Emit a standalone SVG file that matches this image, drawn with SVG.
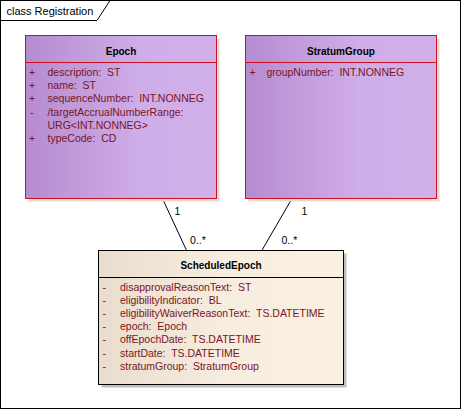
<svg xmlns="http://www.w3.org/2000/svg" width="462" height="410" viewBox="0 0 462 410">
<style>
text{font-family:"Liberation Sans",Arial,sans-serif;}
.title{font-size:11px;fill:#000;}
.hdr{font-size:10px;font-weight:bold;fill:#000;text-anchor:middle;}
.attr{font-size:10.5px;fill:#7b1424;}
.mult{font-size:10.5px;fill:#000;}
.pbox{fill:url(#purple);stroke:#cc1020;stroke-width:1;}
.pline{stroke:#cc1020;stroke-width:1;}
.pshadow{fill:#e6dad6;}
.bbox{fill:url(#beige);stroke:#000;stroke-width:1;}
.conn{stroke:#000;stroke-width:1;fill:none;}
</style>
<defs>
<linearGradient id="purple" x1="0" y1="0" x2="1" y2="0">
<stop offset="0" stop-color="#b58ccf"/>
<stop offset="0.6" stop-color="#cfade8"/>
<stop offset="1" stop-color="#d1afe9"/>
</linearGradient>
<linearGradient id="beige" x1="0" y1="0" x2="1" y2="0">
<stop offset="0" stop-color="#e9ddcd"/>
<stop offset="0.5" stop-color="#f6ecdf"/>
<stop offset="1" stop-color="#fbf1e3"/>
</linearGradient>
</defs>
<rect x="0" y="0" width="462" height="410" fill="#fff"/>
<g id="frame">
<rect x="0.5" y="0.5" width="460" height="408" fill="none" stroke="#000"/>
<path d="M0.5,20.5 H97 L110,0.5" fill="none" stroke="#000"/>
<text class="title" x="6.5" y="14.5">class Registration</text>
</g>
<g id="connectors">
<line class="conn" x1="162.7" y1="199" x2="186.7" y2="250.7"/>
<line class="conn" x1="291.7" y1="199" x2="261.7" y2="250.7"/>
<text class="mult" x="174.5" y="215">1</text>
<text class="mult" x="190" y="244">0..*</text>
<text class="mult" x="301.5" y="215">1</text>
<text class="mult" x="281.5" y="244">0..*</text>
</g>
<g id="Epoch">
<rect class="pshadow" x="28.5" y="38.5" width="191" height="163"/>
<rect class="pbox" x="25.5" y="35.5" width="191" height="163"/>
<line class="pline" x1="25.5" y1="62.5" x2="216.5" y2="62.5"/>
<text class="hdr" x="121" y="54.5">Epoch</text>
<text class="attr" x="29" y="76">+</text><text class="attr" x="47.5" y="76" xml:space="preserve">description:  ST</text>
<text class="attr" x="29" y="89.2">+</text><text class="attr" x="47.5" y="89.2" xml:space="preserve">name:  ST</text>
<text class="attr" x="29" y="102.4">+</text><text class="attr" x="47.5" y="102.4" xml:space="preserve">sequenceNumber:  INT.NONNEG</text>
<text class="attr" x="30" y="115.6">-</text><text class="attr" x="47.5" y="115.6" xml:space="preserve">/targetAccrualNumberRange:</text>
<text class="attr" x="47.5" y="128.8">URG&lt;INT.NONNEG&gt;</text>
<text class="attr" x="29" y="142">+</text><text class="attr" x="47.5" y="142" xml:space="preserve">typeCode:  CD</text>
</g>
<g id="StratumGroup">
<rect class="pshadow" x="248.5" y="38.5" width="191" height="163"/>
<rect class="pbox" x="245.5" y="35.5" width="191" height="163"/>
<line class="pline" x1="245.5" y1="62.5" x2="436.5" y2="62.5"/>
<text class="hdr" x="341" y="54.5">StratumGroup</text>
<text class="attr" x="249.5" y="76">+</text><text class="attr" x="266.5" y="76" xml:space="preserve">groupNumber:  INT.NONNEG</text>
</g>
<g id="ScheduledEpoch">
<rect x="101.5" y="253.5" width="245" height="134" fill="#c0c0c0"/>
<rect class="bbox" x="98.5" y="250.5" width="245" height="134"/>
<line class="conn" x1="98.5" y1="277.5" x2="343.5" y2="277.5"/>
<text class="hdr" x="221" y="269">ScheduledEpoch</text>
<text class="attr" x="102.5" y="291">-</text><text class="attr" x="120" y="291" xml:space="preserve">disapprovalReasonText:  ST</text>
<text class="attr" x="102.5" y="304.1">-</text><text class="attr" x="120" y="304.1" xml:space="preserve">eligibilityIndicator:  BL</text>
<text class="attr" x="102.5" y="317.2">-</text><text class="attr" x="120" y="317.2" xml:space="preserve">eligibilityWaiverReasonText:  TS.DATETIME</text>
<text class="attr" x="102.5" y="330.3">-</text><text class="attr" x="120" y="330.3" xml:space="preserve">epoch:  Epoch</text>
<text class="attr" x="102.5" y="343.4">-</text><text class="attr" x="120" y="343.4" xml:space="preserve">offEpochDate:  TS.DATETIME</text>
<text class="attr" x="102.5" y="356.5">-</text><text class="attr" x="120" y="356.5" xml:space="preserve">startDate:  TS.DATETIME</text>
<text class="attr" x="102.5" y="369.6">-</text><text class="attr" x="120" y="369.6" xml:space="preserve">stratumGroup:  StratumGroup</text>
</g>
</svg>
